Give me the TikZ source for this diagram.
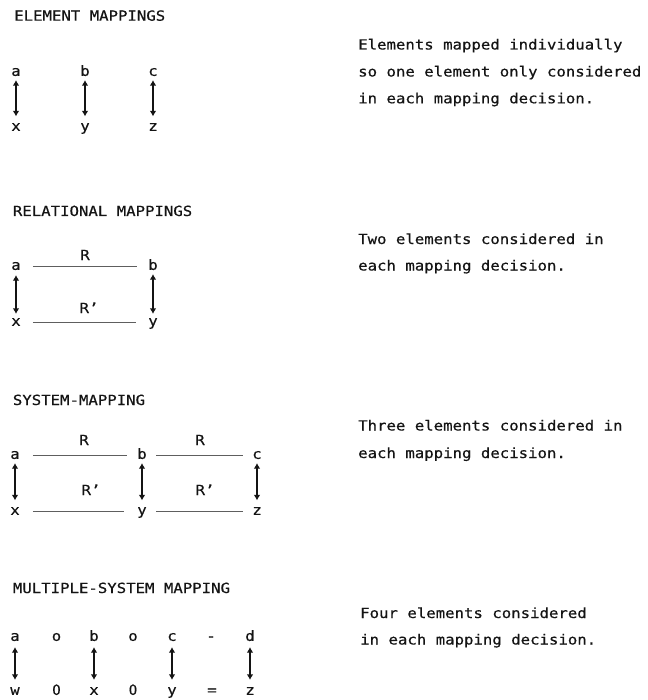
\documentclass[tikz,border=0pt]{standalone}
\usepackage{fontspec}
\newfontfamily\mono[FakeStretch=1.12,FakeBold=0.4]{DejaVu Sans Mono}
\newfontfamily\plainzero[FakeStretch=0.95,FakeBold=0.4]{DejaVu Sans}
\usetikzlibrary{arrows.meta}
\definecolor{ink}{HTML}{141414}
\definecolor{rule}{HTML}{5E5E5E}
\tikzset{
  txt/.style={font=\mono\fontsize{14}{16}\selectfont, text=ink, inner sep=0pt, anchor=base west},
  lt/.style={font=\mono\fontsize{14}{16}\selectfont, text=ink, inner sep=0pt, text height=7.7pt, text depth=0pt, anchor=center},
  zr/.style={lt, font=\plainzero\fontsize{14}{16}\selectfont},
  lab/.style={font=\mono\fontsize{14}{16}\selectfont, text=ink, inner sep=0pt, anchor=base},
  rel/.style={draw=rule, line width=0.8pt},
  map/.style={draw=ink, line width=1.2pt, {Latex[length=5.5pt,width=6.5pt]}-{Latex[length=5.5pt,width=6.5pt]}}
}
\begin{document}
\begin{tikzpicture}[x=1pt,y=-1pt]
\useasboundingbox (0,0) rectangle (647,700);
\fill[white] (0,0) rectangle (647,700);

% ---------- ELEMENT MAPPINGS ----------
\node[txt] (t1) at (14,20.7) {ELEMENT MAPPINGS};
\node[lt] (ea) at (16,72) {a};
\node[lt] (eb) at (85,72) {b};
\node[lt] (ec) at (153,72) {c};
\node[lt] (ex) at (16,127) {x};
\node[lt] (ey) at (85,127) {y};
\node[lt] (ez) at (153,127) {z};
\draw[map, shorten <=4pt, shorten >=6.5pt] (ea) -- (ex);
\draw[map, shorten <=4pt, shorten >=6.5pt] (eb) -- (ey);
\draw[map, shorten <=4pt, shorten >=6.5pt] (ec) -- (ez);
\node[txt] (d1a) at (358,49.5) {Elements mapped individually};
\node[txt] (d1b) at (358,76.5) {so one element only considered};
\node[txt] (d1c) at (358,103.3) {in each mapping decision.};

% ---------- RELATIONAL MAPPINGS ----------
\node[txt] (t2) at (12.7,216) {RELATIONAL MAPPINGS};
\node[lt] (ra) at (16,266) {a};
\node[lt] (rb) at (153,266) {b};
\node[lt] (rx) at (16,322) {x};
\node[lt] (ry) at (153,322) {y};
\draw[rel, shorten <=12pt, shorten >=11pt] (ra) -- (rb);
\draw[rel, shorten <=12pt, shorten >=12.5pt] (rx) -- (ry);
\draw[map, shorten <=5pt, shorten >=4pt] (ra) -- (rx);
\draw[map, shorten <=4pt, shorten >=4pt] (rb) -- (ry);
\node[lab] (rR) at (85,260) {R};
\node[lab] (rRp) at (89,313) {R’};
\node[txt] (d2a) at (358,244) {Two elements considered in};
\node[txt] (d2b) at (358,270.5) {each mapping decision.};

% ---------- SYSTEM-MAPPING ----------
\node[txt] (t3) at (12.7,405) {SYSTEM-MAPPING};
\node[lt] (sa) at (15,455) {a};
\node[lt] (sb) at (142,455) {b};
\node[lt] (sc) at (257,455) {c};
\node[lt] (sx) at (15,511) {x};
\node[lt] (sy) at (142,511) {y};
\node[lt] (sz) at (257,511) {z};
\draw[rel, shorten <=13pt, shorten >=10pt] (sa) -- (sb);
\draw[rel, shorten <=9.5pt, shorten >=9.5pt] (sb) -- (sc);
\draw[rel, shorten <=13pt, shorten >=13pt] (sx) -- (sy);
\draw[rel, shorten <=9.5pt, shorten >=9.5pt] (sy) -- (sz);
\draw[map, shorten <=4pt, shorten >=6.5pt] (sa) -- (sx);
\draw[map, shorten <=4pt, shorten >=6.5pt] (sb) -- (sy);
\draw[map, shorten <=4pt, shorten >=6.5pt] (sc) -- (sz);
\node[lab] (sR1) at (84,445) {R};
\node[lab] (sR2) at (200,445) {R};
\node[lab] (sRp1) at (91,495) {R’};
\node[lab] (sRp2) at (205,495) {R’};
\node[txt] (d3a) at (358,430.5) {Three elements considered in};
\node[txt] (d3b) at (358,458) {each mapping decision.};

% ---------- MULTIPLE-SYSTEM MAPPING ----------
\node[txt] (t4) at (12.7,593) {MULTIPLE-SYSTEM MAPPING};
\node[lt] (ma) at (15,637) {a};
\node[lt] (mo1) at (56.5,637) {o};
\node[lt] (mb) at (94,637) {b};
\node[lt] (mo2) at (133,637) {o};
\node[lt] (mc) at (172,637) {c};
\node[lt] (mm) at (211,637) {-};
\node[lt] (md) at (250,637) {d};
\node[lt] (mw) at (15,691) {w};
\node[zr] (mz1) at (56.5,691) {0};
\node[lt] (mx) at (94,691) {x};
\node[zr] (mz2) at (133,691) {0};
\node[lt] (my) at (172,691) {y};
\node[lt] (me) at (212,691) {=};
\node[lt] (mzz) at (250,691) {z};
\draw[map, shorten <=6pt, shorten >=7pt] (ma) -- (mw);
\draw[map, shorten <=6pt, shorten >=7pt] (mb) -- (mx);
\draw[map, shorten <=6pt, shorten >=7pt] (mc) -- (my);
\draw[map, shorten <=6pt, shorten >=7pt] (md) -- (mzz);
\node[txt] (d4a) at (360,618) {Four elements considered};
\node[txt] (d4b) at (360,644.5) {in each mapping decision.};
\end{tikzpicture}
\end{document}
